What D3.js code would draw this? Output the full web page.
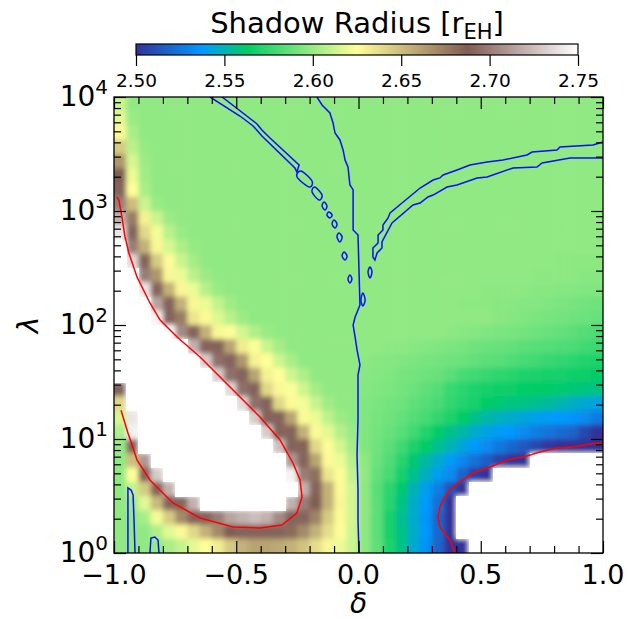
<!DOCTYPE html>
<html>
<head>
<meta charset="utf-8">
<script src="https://cdn.jsdelivr.net/npm/d3@7"></script>
<style>
  body { margin: 0; background: #fff; }
  svg { display: block; font-family: "DejaVu Sans", sans-serif; }
</style>
</head>
<body>
<div id="chart"></div>
<script>
// ---- map grid: cell edges (delta across, lambda from top to bottom) ----
const deltaEdges = [-1, -0.95, -0.9, -0.85, -0.8, -0.75, -0.7, -0.65, -0.6, -0.55, -0.5,
  -0.45, -0.4, -0.35, -0.3, -0.25, -0.2, -0.15, -0.1, -0.05, 0, 0.05, 0.1, 0.15, 0.2,
  0.25, 0.3, 0.35, 0.4, 0.45, 0.5, 0.55, 0.6, 0.65, 0.7, 0.75, 0.8, 0.85, 0.9, 0.95, 1];
const lambdaEdges = [10000, 7499, 5623, 4217, 3162, 2371, 1778, 1334, 1000, 749.9, 562.3,
  421.7, 316.2, 237.1, 177.8, 133.4, 100, 74.99, 56.23, 42.17, 31.62, 23.71, 17.78, 13.34,
  10, 7.499, 5.623, 4.217, 3.162, 2.371, 1.778, 1.334, 1];

// shadow radius per cell, one row per lambda band (top row = largest lambda), null = no value
const shadowRadius = [
  [2.612,2.598,2.598,2.598,2.598,2.598,2.598,2.598,2.598,2.598,2.598,2.598,2.598,2.598,2.598,2.598,2.598,2.598,2.598,2.598,2.598,2.598,2.598,2.598,2.598,2.598,2.598,2.598,2.598,2.598,2.598,2.598,2.598,2.598,2.598,2.598,2.598,2.598,2.598,2.598],
  [2.618,2.600,2.598,2.598,2.598,2.598,2.598,2.598,2.598,2.598,2.598,2.598,2.598,2.598,2.598,2.598,2.598,2.598,2.598,2.598,2.598,2.598,2.598,2.598,2.598,2.598,2.598,2.598,2.598,2.598,2.598,2.598,2.598,2.598,2.598,2.598,2.598,2.598,2.598,2.598],
  [2.627,2.604,2.598,2.598,2.598,2.598,2.598,2.598,2.598,2.598,2.598,2.598,2.598,2.598,2.598,2.598,2.598,2.598,2.598,2.598,2.598,2.598,2.598,2.598,2.598,2.598,2.598,2.598,2.598,2.598,2.598,2.598,2.598,2.598,2.598,2.598,2.598,2.598,2.598,2.598],
  [2.645,2.608,2.599,2.598,2.598,2.598,2.598,2.598,2.598,2.598,2.598,2.598,2.598,2.598,2.598,2.598,2.598,2.598,2.598,2.598,2.598,2.598,2.598,2.598,2.598,2.598,2.598,2.598,2.598,2.598,2.598,2.598,2.598,2.598,2.598,2.598,2.598,2.598,2.598,2.598],
  [2.665,2.615,2.601,2.598,2.598,2.598,2.598,2.598,2.598,2.598,2.598,2.598,2.598,2.598,2.598,2.598,2.598,2.598,2.598,2.598,2.598,2.598,2.598,2.598,2.598,2.598,2.598,2.598,2.598,2.598,2.598,2.598,2.598,2.598,2.598,2.598,2.598,2.598,2.598,2.598],
  [2.688,2.620,2.602,2.598,2.598,2.598,2.598,2.598,2.598,2.598,2.598,2.598,2.598,2.598,2.598,2.598,2.598,2.598,2.598,2.598,2.598,2.598,2.598,2.598,2.598,2.598,2.598,2.598,2.598,2.598,2.598,2.598,2.598,2.598,2.598,2.598,2.598,2.598,2.598,2.598],
  [2.690,2.625,2.604,2.598,2.598,2.598,2.598,2.598,2.598,2.598,2.598,2.598,2.598,2.598,2.598,2.598,2.598,2.598,2.598,2.598,2.598,2.598,2.598,2.598,2.598,2.598,2.598,2.598,2.598,2.598,2.598,2.598,2.598,2.598,2.598,2.598,2.598,2.598,2.598,2.598],
  [2.700,2.650,2.612,2.600,2.598,2.598,2.598,2.598,2.598,2.598,2.598,2.598,2.598,2.598,2.598,2.598,2.598,2.598,2.598,2.598,2.598,2.598,2.598,2.598,2.598,2.598,2.598,2.598,2.598,2.598,2.598,2.598,2.598,2.598,2.598,2.598,2.598,2.598,2.598,2.598],
  [2.720,2.675,2.630,2.612,2.601,2.598,2.598,2.598,2.598,2.598,2.598,2.598,2.598,2.598,2.598,2.598,2.598,2.598,2.598,2.598,2.598,2.598,2.598,2.598,2.598,2.598,2.598,2.598,2.598,2.598,2.598,2.598,2.598,2.598,2.598,2.598,2.598,2.598,2.598,2.598],
  [2.740,2.690,2.640,2.622,2.608,2.600,2.598,2.598,2.598,2.598,2.598,2.598,2.598,2.598,2.598,2.598,2.598,2.598,2.598,2.598,2.598,2.598,2.598,2.598,2.598,2.598,2.598,2.598,2.598,2.598,2.598,2.598,2.598,2.598,2.598,2.598,2.598,2.598,2.598,2.598],
  [null,2.700,2.655,2.628,2.615,2.605,2.599,2.598,2.598,2.598,2.598,2.598,2.598,2.598,2.598,2.598,2.598,2.598,2.598,2.598,2.598,2.598,2.598,2.598,2.598,2.598,2.598,2.598,2.598,2.598,2.598,2.598,2.598,2.598,2.598,2.598,2.598,2.598,2.598,2.598],
  [null,2.735,2.690,2.645,2.626,2.612,2.603,2.598,2.598,2.598,2.598,2.598,2.598,2.598,2.598,2.598,2.598,2.598,2.598,2.598,2.598,2.598,2.598,2.598,2.598,2.598,2.598,2.598,2.598,2.598,2.598,2.598,2.598,2.598,2.598,2.598,2.597,2.597,2.597,2.597],
  [null,null,2.700,2.665,2.628,2.620,2.608,2.601,2.598,2.598,2.598,2.598,2.598,2.598,2.598,2.598,2.598,2.598,2.598,2.598,2.598,2.598,2.598,2.598,2.598,2.598,2.598,2.598,2.598,2.598,2.598,2.598,2.598,2.598,2.597,2.597,2.597,2.597,2.596,2.596],
  [null,null,2.740,2.690,2.655,2.628,2.620,2.607,2.600,2.598,2.598,2.598,2.598,2.598,2.598,2.598,2.598,2.598,2.598,2.598,2.598,2.598,2.598,2.598,2.598,2.598,2.598,2.598,2.598,2.598,2.597,2.597,2.597,2.597,2.596,2.596,2.595,2.595,2.594,2.594],
  [null,null,null,2.715,2.690,2.655,2.628,2.620,2.610,2.602,2.598,2.598,2.598,2.598,2.598,2.598,2.598,2.598,2.598,2.598,2.598,2.598,2.598,2.598,2.598,2.598,2.598,2.598,2.597,2.597,2.597,2.596,2.596,2.595,2.595,2.594,2.593,2.592,2.591,2.590],
  [null,null,null,2.745,2.690,2.675,2.635,2.627,2.617,2.608,2.601,2.598,2.598,2.598,2.598,2.598,2.598,2.598,2.598,2.598,2.598,2.598,2.598,2.598,2.598,2.598,2.598,2.598,2.598,2.598,2.598,2.596,2.595,2.594,2.593,2.592,2.591,2.590,2.589,2.588],
  [null,null,null,null,2.750,2.705,2.690,2.655,2.628,2.624,2.614,2.606,2.600,2.598,2.598,2.598,2.598,2.598,2.598,2.598,2.598,2.598,2.598,2.598,2.598,2.598,2.598,2.597,2.596,2.595,2.594,2.593,2.592,2.591,2.590,2.588,2.587,2.585,2.583,2.581],
  [null,null,null,null,null,null,2.720,2.690,2.690,2.660,2.632,2.624,2.612,2.603,2.598,2.598,2.598,2.598,2.598,2.598,2.598,2.598,2.597,2.597,2.596,2.595,2.594,2.593,2.592,2.590,2.589,2.588,2.587,2.585,2.584,2.583,2.582,2.581,2.579,2.577],
  [null,null,null,null,null,null,null,2.730,2.695,2.690,2.665,2.630,2.625,2.613,2.604,2.598,2.598,2.598,2.598,2.598,2.597,2.596,2.595,2.594,2.593,2.592,2.591,2.590,2.589,2.587,2.585,2.584,2.582,2.580,2.578,2.576,2.575,2.573,2.571,2.570],
  [null,null,null,null,null,null,null,null,2.730,2.695,2.690,2.660,2.630,2.625,2.613,2.605,2.598,2.598,2.598,2.598,2.596,2.595,2.594,2.592,2.591,2.590,2.588,2.585,2.580,2.578,2.576,2.574,2.572,2.570,2.569,2.568,2.567,2.566,2.565,2.564],
  [2.690,null,null,null,null,null,null,null,null,2.735,2.695,2.690,2.640,2.628,2.624,2.613,2.603,2.598,2.598,2.598,2.595,2.594,2.593,2.591,2.589,2.586,2.583,2.576,2.573,2.570,2.568,2.566,2.565,2.564,2.563,2.562,2.561,2.560,2.559,2.558],
  [2.640,null,null,null,null,null,null,null,null,null,2.735,2.695,2.690,2.640,2.627,2.622,2.611,2.602,2.598,2.598,2.594,2.593,2.591,2.590,2.586,2.583,2.580,2.575,2.571,2.567,2.563,2.561,2.559,2.558,2.556,2.554,2.551,2.548,2.545,2.542],
  [2.615,2.740,null,null,null,null,null,null,null,null,null,2.730,2.690,2.690,2.660,2.627,2.620,2.609,2.601,2.598,2.594,2.592,2.590,2.587,2.583,2.580,2.575,2.569,2.563,2.557,2.552,2.549,2.546,2.544,2.541,2.539,2.538,2.536,2.532,2.527],
  [2.605,2.745,null,null,null,null,null,null,null,null,null,null,2.730,2.690,2.690,2.655,2.627,2.618,2.607,2.600,2.594,2.591,2.588,2.584,2.578,2.571,2.563,2.557,2.552,2.546,2.542,2.539,2.537,2.532,2.528,2.524,2.521,2.518,2.508,2.500],
  [2.599,2.690,null,null,null,null,null,null,null,null,null,null,null,2.725,2.690,2.685,2.640,2.626,2.614,2.603,2.594,2.590,2.585,2.578,2.569,2.563,2.556,2.550,2.543,2.538,2.532,2.526,2.519,2.514,2.508,2.502,2.490,2.490,2.490,2.490],
  [2.598,2.650,2.710,null,null,null,null,null,null,null,null,null,null,null,2.710,2.690,2.660,2.627,2.620,2.607,2.597,2.589,2.582,2.572,2.560,2.553,2.546,2.539,2.531,2.523,2.516,2.506,2.490,2.490,null,null,null,null,null,null],
  [2.598,2.625,2.690,2.730,null,null,null,null,null,null,null,null,null,null,2.745,2.700,2.680,2.635,2.624,2.610,2.598,2.587,2.580,2.567,2.556,2.548,2.540,2.532,2.518,2.505,2.490,null,null,null,null,null,null,null,null,null],
  [2.598,2.610,2.645,2.690,2.720,null,null,null,null,null,null,null,null,null,null,2.720,2.690,2.655,2.627,2.614,2.597,2.584,2.573,2.561,2.550,2.540,2.528,2.512,2.490,null,null,null,null,null,null,null,null,null,null,null],
  [2.598,2.601,2.618,2.652,2.690,2.690,2.720,null,null,null,null,null,null,null,2.720,2.700,2.688,2.655,2.628,2.614,2.597,2.585,2.572,2.558,2.547,2.538,2.522,2.500,null,null,null,null,null,null,null,null,null,null,null,null],
  [2.598,2.598,2.604,2.622,2.645,2.670,2.690,2.690,2.700,2.715,2.720,2.725,2.720,2.705,2.690,2.690,2.672,2.645,2.627,2.614,2.597,2.585,2.568,2.556,2.546,2.536,2.518,2.490,null,null,null,null,null,null,null,null,null,null,null,null],
  [2.598,2.598,2.598,2.606,2.618,2.627,2.640,2.655,2.670,2.688,2.690,2.690,2.690,2.690,2.682,2.670,2.655,2.638,2.624,2.613,2.597,2.585,2.568,2.557,2.547,2.537,2.520,2.500,null,null,null,null,null,null,null,null,null,null,null,null],
  [2.598,2.598,2.598,2.599,2.604,2.610,2.618,2.625,2.632,2.645,2.655,2.660,2.660,2.658,2.655,2.648,2.638,2.628,2.620,2.612,2.597,2.586,2.570,2.558,2.545,2.535,2.518,2.500,2.490,null,null,null,null,null,null,null,null,null,null,null]
];

// contour lines, points are [delta, lambda]
const blueLines = [
  [[-0.170,10000],[-0.149,8510],[-0.117,7240],[-0.104,5910],[-0.096,4830],[-0.076,4200],[-0.063,3430],
   [-0.055,2800],[-0.043,2430],[-0.035,1690],[-0.022,1530],[-0.022,681],[-0.002,615],[0.006,150],
   [-0.014,117],[-0.022,100],[-0.014,78.5],[-0.006,60.4],[0.006,44.6],[-0.002,36.4],[-0.002,14.7],
   [-0.006,7.24],[-0.002,3.57],[-0.002,1.95],[0.002,1]],
  [[-0.607,10000],[-0.485,6810],[-0.431,5570],[-0.395,4550],[-0.260,2380],[-0.252,2200],[-0.243,2530],
   [-0.362,4370],[-0.395,5140],[-0.415,5800],[-0.558,10000]],
  [[1.0,4030],[0.959,3790],[0.824,3640],[0.812,3430],[0.710,3290],[0.689,3100],[0.591,2800],[0.526,2690],
   [0.456,2530],[0.403,2290],[0.346,2070],[0.333,1950],[0.305,1870],[0.252,1590],[0.129,960],[0.121,869],
   [0.100,753],[0.100,681],[0.080,615],[0.080,524],[0.059,473],[0.059,394],[0.067,372],[0.076,428],
   [0.096,473],[0.096,535],[0.137,785],[0.223,1129],[0.252,1175],[0.284,1327],[0.305,1380],[0.362,1624],
   [0.403,1690],[0.485,1950],[0.526,1987],[0.632,2382],[0.730,2432],[0.751,2636],[0.865,2917],[1.0,2917]],
  [[-0.943,1],[-0.943,3.72],[-0.930,3.57],[-0.922,3.23],[-0.918,1.95],[-0.914,1]],
  [[-0.853,1],[-0.849,1.354],[-0.833,1.38],[-0.820,1.30],[-0.816,1]]
];
const blueLoops = [
  [[-0.235,2244],[-0.190,1832],[-0.202,1624],[-0.2515,1987]],
  [[-0.178,1624],[-0.149,1380],[-0.162,1248],[-0.190,1468]],
  [[-0.141,1199],[-0.129,1106],[-0.137,1021],[-0.149,1106]],
  [[-0.121,980],[-0.108,922],[-0.117,869],[-0.129,922]],
  [[-0.100,834],[-0.088,769],[-0.096,710],[-0.108,769]],
  [[-0.080,641],[-0.067,592],[-0.076,535],[-0.088,592]],
  [[-0.059,437],[-0.047,403],[-0.055,372],[-0.067,403]],
  [[-0.035,275],[-0.027,253],[-0.035,234],[-0.043,253]],
  [[0.018,191],[0.027,166],[0.018,147],[0.010,166]],
  [[0.047,323],[0.055,292],[0.047,258],[0.039,292]]
];
const redLines = [
  [[-0.988,1327],[-0.980,1248],[-0.967,869],[-0.955,592],[-0.939,428],[-0.906,264],[-0.853,156],
   [-0.812,111],[-0.779,94.1],[-0.742,78.5],[-0.648,52.4],[-0.513,26.9],[-0.403,15.6],[-0.321,9.80],
   [-0.268,6.16],[-0.239,4.37],[-0.231,3.10],[-0.252,2.24],[-0.313,1.76],[-0.403,1.66],[-0.513,1.69],
   [-0.648,2.03],[-0.759,2.75],[-0.853,4.37],[-0.906,6.54],[-0.926,8.86],[-0.943,11.3],[-0.963,15.6],
   [-0.971,17.9]],
  [[0.395,1],[0.374,1.30],[0.333,1.69],[0.325,2.07],[0.333,2.53],[0.346,2.92],[0.374,3.57],[0.415,4.20],
   [0.468,5.03],[0.538,5.68],[0.607,6.54],[0.689,7.10],[0.742,7.69],[0.812,8.34],[0.877,8.51],
   [0.947,9.04],[1.0,9.23]]
];

// axes ticks
const xMajor = [-1, -0.5, 0, 0.5, 1];
const xMinor = [-0.9, -0.8, -0.7, -0.6, -0.4, -0.3, -0.2, -0.1, 0.1, 0.2, 0.3, 0.4, 0.6, 0.7, 0.8, 0.9];
const yMajor = [1, 10, 100, 1000, 10000];
const yMinor = [2, 3, 4, 5, 6, 7, 8, 9, 20, 30, 40, 50, 60, 70, 80, 90,
  200, 300, 400, 500, 600, 700, 800, 900, 2000, 3000, 4000, 5000, 6000, 7000, 8000, 9000];
const cbarTicks = [2.50, 2.55, 2.60, 2.65, 2.70, 2.75];

// terrain colour map
const cmapStops = [0, 0.15, 0.25, 0.5, 0.75, 1];
const cmapColors = ["#333399", "#0099ff", "#00cc66", "#ffff99", "#805c54", "#ffffff"];

const W = 628, H = 620;
const plot = {left: 114, right: 603, top: 97, bottom: 553};
const cbar = {left: 136, right: 578, top: 44, bottom: 55};
const majorLen = 12, minorLen = 7;

const vmin = 2.5, vmax = 2.75;
const color = d3.scaleLinear()
  .domain(cmapStops.map(t => vmin + t * (vmax - vmin)))
  .range(cmapColors)
  .clamp(true);

const x = d3.scaleLinear().domain([-1, 1]).range([plot.left, plot.right]);
const y = d3.scaleLog().domain([1, 1e4]).range([plot.bottom, plot.top]);

const svg = d3.select("#chart").append("svg")
  .attr("width", W).attr("height", H);

const defs = svg.append("defs");
defs.append("clipPath").attr("id", "clip")
  .append("rect")
  .attr("x", plot.left).attr("y", plot.top)
  .attr("width", plot.right - plot.left).attr("height", plot.bottom - plot.top);
defs.append("filter").attr("id", "soft")
  .attr("filterUnits", "userSpaceOnUse")
  .attr("x", plot.left - 30).attr("y", plot.top - 30)
  .attr("width", plot.right - plot.left + 60).attr("height", plot.bottom - plot.top + 60)
  .append("feGaussianBlur").attr("stdDeviation", 2.6);

// heat map cells; outer cells are stretched past the frame so the smoothing does not fade at the edges
const nCols = deltaEdges.length - 1, nRows = lambdaEdges.length - 1, pad = 12;
const cells = [];
shadowRadius.forEach((row, j) => row.forEach((v, i) => cells.push({i: i, j: j, v: v})));
const cx0 = d => d.i === 0 ? plot.left - pad : x(deltaEdges[d.i]);
const cx1 = d => d.i === nCols - 1 ? plot.right + pad : x(deltaEdges[d.i + 1]);
const cy0 = d => d.j === 0 ? plot.top - pad : y(lambdaEdges[d.j]);
const cy1 = d => d.j === nRows - 1 ? plot.bottom + pad : y(lambdaEdges[d.j + 1]);

const heat = svg.append("g").attr("clip-path", "url(#clip)");
heat.append("g").attr("filter", "url(#soft)")
  .selectAll("rect").data(cells).join("rect")
  .attr("x", cx0).attr("y", cy0)
  .attr("width", d => cx1(d) - cx0(d) + 0.5)
  .attr("height", d => cy1(d) - cy0(d) + 0.5)
  .attr("fill", d => d.v === null ? "#ffffff" : color(d.v));
// cells without a value stay plain white with hard edges
heat.append("g")
  .selectAll("rect").data(cells.filter(d => d.v === null)).join("rect")
  .attr("x", cx0).attr("y", cy0)
  .attr("width", d => cx1(d) - cx0(d) + 0.5)
  .attr("height", d => cy1(d) - cy0(d) + 0.5)
  .attr("fill", "#ffffff")
  .attr("shape-rendering", "crispEdges");

// contours
const line = d3.line().x(d => x(d[0])).y(d => y(d[1]));
const loop = d3.line().x(d => x(d[0])).y(d => y(d[1])).curve(d3.curveCardinalClosed);
const cg = svg.append("g").attr("clip-path", "url(#clip)").attr("fill", "none");

cg.selectAll(".blue").data(blueLines).join("path")
  .attr("d", line).attr("stroke", "#0c0cff").attr("stroke-width", 1.5);
cg.selectAll(".loop").data(blueLoops).join("path")
  .attr("d", loop).attr("stroke", "#0c0cff").attr("stroke-width", 1.5);
cg.selectAll(".red").data(redLines).join("path")
  .attr("d", line).attr("stroke", "#ff0000").attr("stroke-width", 1.5);

// frame
svg.append("rect")
  .attr("x", plot.left).attr("y", plot.top)
  .attr("width", plot.right - plot.left).attr("height", plot.bottom - plot.top)
  .attr("fill", "none").attr("stroke", "#000").attr("stroke-width", 1.3);

// ticks pointing inwards on all four sides
function ticks(axis, values, len, transform) {
  const g = svg.append("g").attr("transform", transform)
    .call(axis.tickValues(values).tickSize(-len).tickFormat(""));
  g.select(".domain").remove();
  g.selectAll(".tick line").attr("stroke", "#000").attr("stroke-width", 1.2);
  return g;
}
ticks(d3.axisBottom(x), xMajor, majorLen, `translate(0,${plot.bottom})`);
ticks(d3.axisBottom(x), xMinor, minorLen, `translate(0,${plot.bottom})`);
ticks(d3.axisTop(x), xMajor, majorLen, `translate(0,${plot.top})`);
ticks(d3.axisTop(x), xMinor, minorLen, `translate(0,${plot.top})`);
ticks(d3.axisLeft(y), yMajor, majorLen, `translate(${plot.left},0)`);
ticks(d3.axisLeft(y), yMinor, minorLen, `translate(${plot.left},0)`);
ticks(d3.axisRight(y), yMajor, majorLen, `translate(${plot.right},0)`);
ticks(d3.axisRight(y), yMinor, minorLen, `translate(${plot.right},0)`);

// tick labels
const fmt = d3.format(".1f");
svg.append("g").selectAll("text").data(xMajor).join("text")
  .attr("x", d => x(d)).attr("y", 584)
  .attr("text-anchor", "middle").attr("font-size", 27)
  .text(d => fmt(d));

const ylab = svg.append("g").selectAll("text").data(yMajor).join("text")
  .attr("x", 108).attr("y", d => y(d) + 9)
  .attr("text-anchor", "end").attr("font-size", 28);
ylab.append("tspan").text("10");
ylab.append("tspan").attr("font-size", 20).attr("dy", -12)
  .text(d => Math.round(Math.log10(d)));

// axis titles
svg.append("text").attr("x", x(0)).attr("y", 613)
  .attr("text-anchor", "middle").attr("font-size", 28).attr("font-style", "italic")
  .text("δ");
svg.append("text")
  .attr("transform", `translate(38,${(plot.top + plot.bottom) / 2}) rotate(-90)`)
  .attr("text-anchor", "middle").attr("font-size", 28).attr("font-style", "italic")
  .text("λ");

// colour bar
const grad = defs.append("linearGradient").attr("id", "cmap");
grad.selectAll("stop").data(cmapStops).join("stop")
  .attr("offset", d => d * 100 + "%")
  .attr("stop-color", (d, i) => cmapColors[i]);

svg.append("rect")
  .attr("x", cbar.left).attr("y", cbar.top)
  .attr("width", cbar.right - cbar.left).attr("height", cbar.bottom - cbar.top)
  .attr("fill", "url(#cmap)").attr("stroke", "#000").attr("stroke-width", 1.2);

const cb = d3.scaleLinear().domain([vmin, vmax]).range([cbar.left, cbar.right]);
const cbAxis = svg.append("g").attr("transform", `translate(0,${cbar.bottom})`)
  .call(d3.axisBottom(cb).tickValues(cbarTicks).tickSize(11).tickPadding(8)
    .tickFormat(d3.format(".2f")));
cbAxis.select(".domain").remove();
cbAxis.selectAll(".tick line").attr("stroke", "#000").attr("stroke-width", 1.2);
cbAxis.selectAll(".tick text").attr("font-size", 18.5).attr("fill", "#000")
  .attr("font-family", "DejaVu Sans, sans-serif");

const title = svg.append("text")
  .attr("x", (cbar.left + cbar.right) / 2).attr("y", 33)
  .attr("text-anchor", "middle").attr("font-size", 29);
title.append("tspan").text("Shadow Radius [r");
title.append("tspan").attr("font-size", 21).attr("dy", 6).text("EH");
title.append("tspan").attr("dy", -6).text("]");
</script>
</body>
</html>
